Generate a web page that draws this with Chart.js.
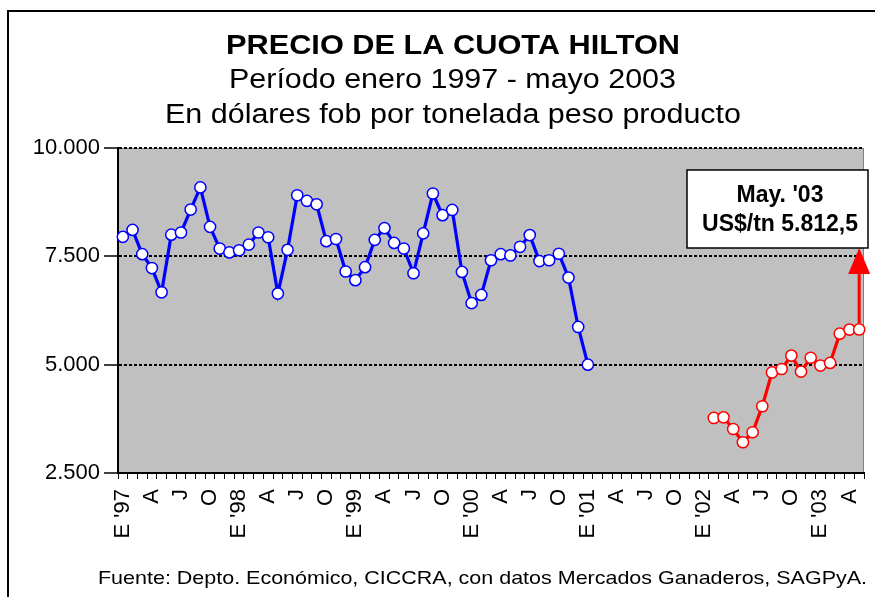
<!DOCTYPE html>
<html>
<head>
<meta charset="utf-8">
<script src="https://cdn.jsdelivr.net/npm/chart.js@4.4.1/dist/chart.umd.min.js"></script>
<style>
  html, body { margin: 0; padding: 0; background: #ffffff; }
  #wrap { width: 875px; height: 597px; position: relative; }
</style>
</head>
<body>
<div id="wrap"><canvas id="c" width="875" height="597"></canvas></div>
<script>
// ---- DATA ----
const categories = [
  "Ene-97","Feb-97","Mar-97","Abr-97","May-97","Jun-97","Jul-97","Ago-97","Sep-97","Oct-97","Nov-97","Dic-97",
  "Ene-98","Feb-98","Mar-98","Abr-98","May-98","Jun-98","Jul-98","Ago-98","Sep-98","Oct-98","Nov-98","Dic-98",
  "Ene-99","Feb-99","Mar-99","Abr-99","May-99","Jun-99","Jul-99","Ago-99","Sep-99","Oct-99","Nov-99","Dic-99",
  "Ene-00","Feb-00","Mar-00","Abr-00","May-00","Jun-00","Jul-00","Ago-00","Sep-00","Oct-00","Nov-00","Dic-00",
  "Ene-01","Feb-01","Mar-01","Abr-01","May-01","Jun-01","Jul-01","Ago-01","Sep-01","Oct-01","Nov-01","Dic-01",
  "Ene-02","Feb-02","Mar-02","Abr-02","May-02","Jun-02","Jul-02","Ago-02","Sep-02","Oct-02","Nov-02","Dic-02",
  "Ene-03","Feb-03","Mar-03","Abr-03","May-03"
];
// one label every third month (quarter starts)
const tickLabels = [
  "E '97","A","J","O","E '98","A","J","O","E '99","A","J","O",
  "E '00","A","J","O","E '01","A","J","O","E '02","A","J","O","E '03","A"
];
// Jan 1997 - Jan 2001
const blueValues = [
  7950, 8110, 7550, 7230, 6670, 8000, 8050, 8580, 9090, 8180, 7680, 7590,
  7640, 7770, 8050, 7940, 6640, 7650, 8910, 8780, 8700, 7850, 7900, 7150,
  6950, 7250, 7880, 8150, 7810, 7680, 7110, 8030, 8950, 8450, 8570, 7140,
  6420, 6610, 7410, 7550, 7520, 7720, 7990, 7390, 7410, 7560, 7010, 5870,
  5000
];
const blueStart = "Ene-97";
// Feb 2002 - May 2003
const redValues = [
  3770, 3785, 3515, 3210, 3440, 4040, 4820, 4900, 5210, 4840, 5160, 4980,
  5040, 5715, 5810, 5812.5
];
const redStart = "Feb-02";
const yTicks = [2500, 5000, 7500, 10000];
const titleLines = ["PRECIO DE LA CUOTA HILTON", "Período enero 1997 - mayo 2003", "En dólares fob por tonelada peso producto"];
const footerText = "Fuente: Depto. Económico, CICCRA, con datos Mercados Ganaderos, SAGPyA.";
const calloutLines = ["May. '03", "US$/tn 5.812,5"];

// ---- build padded series ----
function pad(values, startLabel) {
  const start = categories.indexOf(startLabel);
  return categories.map((_, i) => (i >= start && i < start + values.length) ? values[i - start] : null);
}
const blueData = pad(blueValues, blueStart);
const redData = pad(redValues, redStart);

const FONT = "'Liberation Sans', Arial, Helvetica, sans-serif";

function fmt(v) {
  return String(v).replace(/\B(?=(\d{3})+(?!\d))/g, ".");
}

function stretchText(ctx, text, cx, y, font, width) {
  ctx.save();
  ctx.font = font;
  const w = ctx.measureText(text).width;
  ctx.translate(cx, y);
  ctx.scale(width / w, 1);
  ctx.textAlign = "center";
  ctx.textBaseline = "alphabetic";
  ctx.fillStyle = "#000";
  ctx.fillText(text, 0, 0);
  ctx.restore();
}

const decor = {
  id: "decor",
  beforeDraw(chart) {
    const ctx = chart.ctx, a = chart.chartArea;
    ctx.save();
    ctx.fillStyle = "#fff";
    ctx.fillRect(0, 0, chart.width, chart.height);
    // outer frame
    ctx.strokeStyle = "#000";
    ctx.lineWidth = 2;
    ctx.beginPath();
    ctx.moveTo(8, chart.height + 2);
    ctx.lineTo(8, 11);
    ctx.lineTo(chart.width + 2, 11);
    ctx.stroke();
    // plot background
    ctx.fillStyle = "#C0C0C0";
    ctx.fillRect(a.left, a.top, a.right - a.left, a.bottom - a.top);
    ctx.strokeStyle = "#808080";
    ctx.lineWidth = 1;
    ctx.strokeRect(a.left + 0.5, a.top + 0.5, a.right - a.left - 1, a.bottom - a.top - 1);
    ctx.restore();
    // titles
    stretchText(ctx, titleLines[0], 453, 53.5, "bold 28px " + FONT, 454);
    stretchText(ctx, titleLines[1], 452.5, 88, "27px " + FONT, 447);
    stretchText(ctx, titleLines[2], 453, 123, "27px " + FONT, 576);
    stretchText(ctx, footerText, 482.5, 583.5, "19px " + FONT, 769);
  },
  afterDraw(chart) {
    const ctx = chart.ctx;
    const xs = chart.scales.x, ys = chart.scales.y;
    const lastIdx = categories.indexOf(redStart) + redValues.length - 1;
    const px = xs.getPixelForValue(lastIdx);
    const py = ys.getPixelForValue(redValues[redValues.length - 1]);
    const box = { l: 687, t: 170, r: 868, b: 248 };
    ctx.save();
    // arrow
    ctx.strokeStyle = "#FF0000";
    ctx.fillStyle = "#FF0000";
    ctx.lineWidth = 3;
    ctx.beginPath();
    ctx.moveTo(px, py - 6);
    ctx.lineTo(px, box.b + 24);
    ctx.stroke();
    ctx.beginPath();
    ctx.moveTo(px, box.b);
    ctx.lineTo(px - 11, box.b + 26);
    ctx.lineTo(px + 11, box.b + 26);
    ctx.closePath();
    ctx.fill();
    // callout box
    ctx.fillStyle = "#fff";
    ctx.fillRect(box.l, box.t, box.r - box.l, box.b - box.t);
    ctx.strokeStyle = "#000";
    ctx.lineWidth = 1.5;
    ctx.strokeRect(box.l, box.t, box.r - box.l, box.b - box.t);
    ctx.fillStyle = "#000";
    ctx.font = "bold 23px " + FONT;
    ctx.textAlign = "center";
    ctx.textBaseline = "alphabetic";
    ctx.fillText(calloutLines[0], 780, 202);
    ctx.fillText(calloutLines[1], 780, 231);
    ctx.restore();
  }
};

new Chart(document.getElementById("c"), {
  type: "line",
  data: {
    labels: categories,
    datasets: [
      {
        data: blueData,
        borderColor: "#0000FF",
        borderWidth: 3.2,
        pointBackgroundColor: "#FFFFFF",
        pointBorderColor: "#0000FF",
        pointBorderWidth: 1.5,
        pointRadius: 5.6,
        tension: 0,
        spanGaps: false
      },
      {
        data: redData,
        borderColor: "#FF0000",
        borderWidth: 3.2,
        pointBackgroundColor: "#FFFFFF",
        pointBorderColor: "#FF0000",
        pointBorderWidth: 1.5,
        pointRadius: 5.6,
        tension: 0,
        spanGaps: false
      }
    ]
  },
  options: {
    responsive: false,
    animation: false,
    devicePixelRatio: 1,
    layout: { padding: { top: 148, left: 0, right: 11, bottom: 0 } },
    plugins: {
      legend: { display: false },
      title: { display: false },
      tooltip: { enabled: false }
    },
    scales: {
      x: {
        type: "category",
        offset: true,
        grid: {
          offset: true,
          drawOnChartArea: false,
          drawTicks: true,
          tickLength: 6,
          tickColor: "#000",
          tickWidth: 1
        },
        border: { display: true, color: "#000", width: 2 },
        ticks: {
          autoSkip: false,
          minRotation: 90,
          maxRotation: 90,
          padding: 10,
          color: "#000",
          font: { family: FONT, size: 22 },
          callback: (v, i) => (i % 3 === 0 ? tickLabels[i / 3] : "")
        },
        afterFit: (s) => { s.height = 597 - 473; s.paddingLeft = 0; s.paddingRight = 0; }
      },
      y: {
        min: yTicks[0],
        max: yTicks[yTicks.length - 1],
        afterBuildTicks: (s) => { s.ticks = yTicks.map(v => ({ value: v })); },
        grid: {
          color: (c) => (c.tick && c.tick.value === yTicks[0]) ? "rgba(0,0,0,0)" : "#000",
          lineWidth: 2,
          tickLength: 14,
          tickColor: "#000",
          tickWidth: 1.5,
          tickBorderDash: []
        },
        border: { display: true, color: "#000", width: 2, dash: [3, 2] },
        ticks: {
          padding: 4,
          color: "#000",
          font: { family: FONT, size: 22 },
          callback: (v) => fmt(v)
        },
        afterFit: (s) => { s.width = 118; s.paddingTop = 0; s.paddingBottom = 0; }
      }
    }
  },
  plugins: [decor]
});
</script>
</body>
</html>
